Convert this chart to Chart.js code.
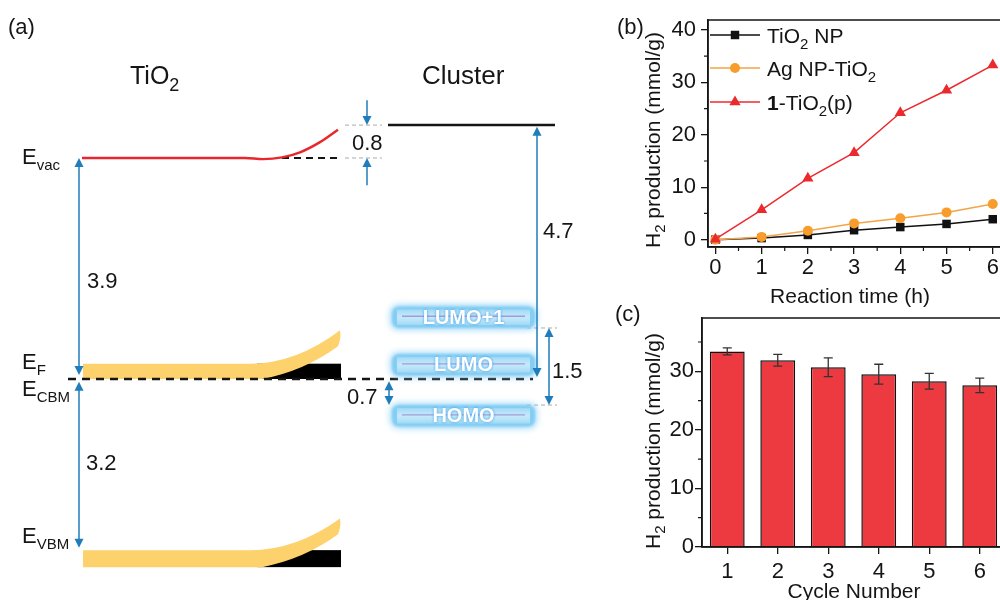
<!DOCTYPE html>
<html>
<head>
<meta charset="utf-8">
<title>TiO2 / cluster energy diagram and H2 production</title>
<script src="https://cdn.jsdelivr.net/npm/chart.js@4.4.1/dist/chart.umd.min.js"></script>
<style>
  html, body { margin: 0; padding: 0; background: #fff; }
  body { width: 1000px; height: 600px; position: relative; overflow: hidden; }
  canvas { position: absolute; }
</style>
</head>
<body>
<canvas id="diagram" width="600" height="600" style="left:0;top:0"></canvas>
<canvas id="kinetics" width="410" height="310" style="left:600px;top:0"></canvas>
<canvas id="cycles" width="410" height="300" style="left:600px;top:300px"></canvas>
<script>
// ---------- data ----------
// (a) energy levels as drawn, in eV (TiO2 vacuum level = 0)
const levelNames = ["E_vac", "cluster vacuum", "E_CBM", "E_VBM", "LUMO+1", "LUMO", "HOMO"];
const levelEnergies = [0, 0.58, -3.9, -6.92, -2.81, -3.65, -4.55];
const gapLabels = ["3.9", "3.2", "0.8", "4.7", "1.5", "0.7"];

// (b) H2 production vs reaction time
const seriesNames = ["TiO_2 NP", "Ag NP-TiO_2", "**1**-TiO_2(p)"];
const reactionTime = [0, 1, 2, 3, 4, 5, 6];
const tio2NP = [0, 0.3, 0.9, 1.8, 2.4, 3.0, 3.9];
const agNPTiO2 = [0, 0.5, 1.7, 3.1, 4.1, 5.2, 6.8];
const clusterTiO2 = [0.1, 5.7, 11.7, 16.6, 24.2, 28.5, 33.3];
const timeTicks = [0, 1, 2, 3, 4, 5, 6];
const prodTicksB = [0, 10, 20, 30, 40];

// (c) recycling test
const cycleLabels = ["1", "2", "3", "4", "5", "6"];
const cycleProd = [33.4, 31.9, 30.7, 29.5, 28.3, 27.6];
const cycleErr = [0.6, 1.0, 1.6, 1.7, 1.35, 1.25];
const prodTicksC = [0, 10, 20, 30];

// ---------- common ----------
const FONT = '"Liberation Sans", Arial, Helvetica, sans-serif';
const INK = "#151515";
const BLUE = "#1f7dbb";
Chart.defaults.font.family = FONT;
Chart.defaults.color = INK;

function fontOf(size, bold) {
  return (bold ? "bold " : "") + size + "px " + FONT;
}

// "TiO_2", "E_{vac}", "**1**" -> parts
function parseRich(s) {
  const out = [];
  const re = /_\{([^}]*)\}|_(\w)|\*\*([^*]+)\*\*/g;
  let last = 0, m;
  while ((m = re.exec(s))) {
    if (m.index > last) out.push([s.slice(last, m.index), ""]);
    if (m[3] !== undefined) out.push([m[3], "b"]);
    else out.push([m[1] !== undefined ? m[1] : m[2], "sub"]);
    last = re.lastIndex;
  }
  if (last < s.length) out.push([s.slice(last), ""]);
  return out;
}

// draws text with subscripts, y is the baseline
function rich(ctx, s, x, y, size, align) {
  const parts = parseRich(s);
  ctx.save();
  ctx.textBaseline = "alphabetic";
  ctx.textAlign = "left";
  const fonts = parts.map(p => p[1] === "sub" ? fontOf(Math.round(size * 0.7)) : fontOf(size, p[1] === "b"));
  const ws = parts.map((p, i) => { ctx.font = fonts[i]; return ctx.measureText(p[0]).width; });
  let cx = x;
  if (align === "center") cx -= ws.reduce((a, b) => a + b, 0) / 2;
  parts.forEach((p, i) => {
    ctx.font = fonts[i];
    ctx.fillText(p[0], cx, y + (p[1] === "sub" ? size * 0.28 : 0));
    cx += ws[i];
  });
  ctx.restore();
}

function minorsOf(ticks, max) {
  const step = ticks[1] - ticks[0];
  return ticks.map(v => v + step / 2).filter(v => v < max);
}

function axisStyle(size) {
  return {
    grid: { drawOnChartArea: false, drawTicks: true, tickLength: 7, color: INK, lineWidth: 1.3 },
    border: { color: INK, width: 1.5 },
    ticks: { font: { size: size }, color: INK, maxRotation: 0 }
  };
}

// ---------- (a) energy diagram ----------
const [eVac, eClusterVac, eCBM, eVBM, eLumo1, eLumo, eHomo] = levelEnergies;
const boxHalf = 0.19;

// horizontal layout of the schematic (px) and shape of the bent vacuum level (eV offsets)
const diag = {
  vacBend: [[82, 0], [245, 0], [263, -0.02], [282, 0.01], [300, 0.1], [320, 0.28], [338, 0.5]],
  bandX: [83, 250, 340],
  boxX: [392, 535]
};

function seg(x1, x2, e) { return [{ x: x1, y: e }, { x: x2, y: e }]; }
function lineDs(data, color, width, dash) {
  return { data: data, borderColor: color, borderWidth: width, borderDash: dash || [],
           showLine: true, pointRadius: 0, fill: false };
}

const arrows = [
  [79, eVac, eCBM + 0.07, 1, 1],
  [79, eCBM - 0.05, eVBM + 0.04, 1, 1],
  [367, eClusterVac + 0.44, eClusterVac, 0, 1],
  [367, eVac - 0.48, eVac, 0, 1],
  [537, eClusterVac - 0.03, eCBM + 0.035, 1, 1],
  [549, eLumo1 - boxHalf, eHomo + boxHalf, 1, 1],
  [389, eCBM - 0.04, eHomo + boxHalf, 1, 1]
];
const gapPos = [[87, 288], [86, 470], [352, 150], [543, 238], [552, 378], [347, 404]];
const diagText = [
  ["(a)", 8, 34, 22],
  ["TiO_2", 130, 84, 25],
  ["Cluster", 422, 84, 26],
  ["E_{vac}", 22, 164, 22],
  ["E_F", 22, 369, 22],
  ["E_{CBM}", 22, 396, 22],
  ["E_{VBM}", 22, 543, 22]
];

function drawBand(ctx, sx, sy, eBottom, thick) {
  const [xl, xb, xr] = diag.bandX;
  const px = v => sx.getPixelForValue(v);
  const py = e => sy.getPixelForValue(e);
  const yb = py(eBottom), yt = py(eBottom + thick);
  const yTip = py(eBottom + 0.86), yLow = py(eBottom + 0.58), yCtl = py(eBottom + 0.15);
  ctx.fillStyle = "#000";
  ctx.fillRect(px(257), yt, px(341) - px(257), yb - yt);
  ctx.fillStyle = "#fdd26d";
  ctx.beginPath();
  ctx.moveTo(px(xl), yt);
  ctx.lineTo(px(xb), yt);
  ctx.quadraticCurveTo(px(296), yt, px(xr), yTip);
  ctx.quadraticCurveTo(px(xr + 1.5), (yTip + yLow) / 2, px(xr - 2), yLow);
  ctx.quadraticCurveTo(px(305), yCtl, px(262), yb);
  ctx.lineTo(px(xl), yb);
  ctx.closePath();
  ctx.fill();
}

function roundRectPath(ctx, x, y, w, h, r) {
  ctx.beginPath();
  ctx.moveTo(x + r, y);
  ctx.lineTo(x + w - r, y);
  ctx.quadraticCurveTo(x + w, y, x + w, y + r);
  ctx.lineTo(x + w, y + h - r);
  ctx.quadraticCurveTo(x + w, y + h, x + w - r, y + h);
  ctx.lineTo(x + r, y + h);
  ctx.quadraticCurveTo(x, y + h, x, y + h - r);
  ctx.lineTo(x, y + r);
  ctx.quadraticCurveTo(x, y, x + r, y);
  ctx.closePath();
}

function glowBox(ctx, x1, x2, yTop, yBot, label) {
  const h = yBot - yTop, yc = (yTop + yBot) / 2;
  ctx.save();
  // soft halo
  ctx.filter = "blur(3px)";
  ctx.fillStyle = "rgba(130,205,247,0.7)";
  roundRectPath(ctx, x1 - 2, yTop - 2, x2 - x1 + 4, h + 4, 9);
  ctx.fill();
  ctx.filter = "blur(1px)";
  ctx.fillStyle = "#84cdf3";
  roundRectPath(ctx, x1, yTop, x2 - x1, h, 8);
  ctx.fill();
  ctx.filter = "none";
  const g = ctx.createLinearGradient(0, yTop, 0, yBot);
  g.addColorStop(0, "rgba(255,255,255,0)");
  g.addColorStop(0.5, "rgba(205,238,253,0.85)");
  g.addColorStop(1, "rgba(255,255,255,0)");
  ctx.fillStyle = g;
  ctx.fillRect(x1 + 5, yTop + 3, x2 - x1 - 10, h - 6);
  ctx.strokeStyle = "#a49bd6";
  ctx.lineWidth = 1.3;
  ctx.beginPath();
  ctx.moveTo(x1 + 10, yc - 1); ctx.lineTo(x2 - 10, yc - 1);
  ctx.stroke();
  ctx.fillStyle = "#ffffff";
  ctx.font = fontOf(20, true);
  ctx.textAlign = "center";
  ctx.textBaseline = "middle";
  ctx.shadowColor = "rgba(40,150,230,0.9)";
  ctx.shadowBlur = 3;
  ctx.fillText(label, (x1 + x2) / 2, yc + 1);
  ctx.restore();
}

function drawArrow(ctx, x, y1, y2, head1, head2) {
  const hl = 9, hw = 4.5;
  const dir = Math.sign(y2 - y1);
  ctx.save();
  ctx.strokeStyle = BLUE;
  ctx.fillStyle = BLUE;
  ctx.lineWidth = 1.5;
  ctx.beginPath();
  ctx.moveTo(x, y1 + (head1 ? dir * hl * 0.7 : 0));
  ctx.lineTo(x, y2 - (head2 ? dir * hl * 0.7 : 0));
  ctx.stroke();
  const tri = (tip, pd) => {
    ctx.beginPath();
    ctx.moveTo(x, tip);
    ctx.lineTo(x - hw, tip - pd * hl);
    ctx.lineTo(x + hw, tip - pd * hl);
    ctx.closePath();
    ctx.fill();
  };
  if (head1) tri(y1, -dir);
  if (head2) tri(y2, dir);
  ctx.restore();
}

const diagramDecor = {
  id: "diagramDecor",
  beforeDatasetsDraw(chart) {
    const { ctx, scales: { x, y } } = chart;
    ctx.save();
    drawBand(ctx, x, y, eCBM, 0.27);
    drawBand(ctx, x, y, eVBM - 0.3, 0.3);
    ctx.restore();
  },
  afterDatasetsDraw(chart) {
    const { ctx, scales: { x, y } } = chart;
    const bx1 = x.getPixelForValue(diag.boxX[0]), bx2 = x.getPixelForValue(diag.boxX[1]);
    [[eLumo1, levelNames[4]], [eLumo, levelNames[5]], [eHomo, levelNames[6]]].forEach(b => {
      glowBox(ctx, bx1, bx2, y.getPixelForValue(b[0] + boxHalf), y.getPixelForValue(b[0] - boxHalf), b[1]);
    });
    arrows.forEach(a => drawArrow(ctx, x.getPixelForValue(a[0]), y.getPixelForValue(a[1]), y.getPixelForValue(a[2]), a[3], a[4]));
    ctx.fillStyle = INK;
    diagText.forEach(t => rich(ctx, t[0], t[1], t[2], t[3]));
    gapLabels.forEach((g, i) => rich(ctx, g, gapPos[i][0], gapPos[i][1], 22));
  }
};

new Chart(document.getElementById("diagram"), {
  type: "scatter",
  data: {
    datasets: [
      Object.assign(lineDs(diag.vacBend.map(p => ({ x: p[0], y: eVac + p[1] })), "#e8262c", 2.4),
                    { cubicInterpolationMode: "monotone" }),
      lineDs(seg(282, 338, eVac), INK, 2.2, [7, 5]),
      lineDs(seg(345, 382, eClusterVac), "#aaaaaa", 1, [4, 3]),
      lineDs(seg(345, 382, eVac), "#aaaaaa", 1, [4, 3]),
      lineDs(seg(527, 557, eLumo1 - boxHalf), "#aaaaaa", 1, [4, 3]),
      lineDs(seg(527, 557, eHomo + boxHalf), "#aaaaaa", 1, [4, 3]),
      lineDs(seg(388, 555, eClusterVac), INK, 2.5),
      lineDs(seg(68, 533, eCBM), INK, 2.5, [8, 6])
    ]
  },
  options: {
    responsive: false,
    animation: false,
    devicePixelRatio: 1,
    layout: { padding: 0 },
    plugins: { legend: { display: false }, tooltip: { enabled: false } },
    scales: {
      x: { type: "linear", display: false, min: 0, max: 600 },
      y: { type: "linear", display: false, min: -7.8, max: 2.788 }
    }
  },
  plugins: [diagramDecor]
});

// ---------- (b) H2 production vs time ----------
const kineticsDecor = {
  id: "kineticsDecor",
  afterDraw(chart) {
    const { ctx, chartArea: a, scales: { x, y } } = chart;
    ctx.save();
    ctx.strokeStyle = INK;
    ctx.lineWidth = 1.5;
    ctx.strokeRect(a.left, a.top, a.right - a.left, a.bottom - a.top);
    ctx.lineWidth = 1.2;
    ctx.beginPath();
    minorsOf(prodTicksB, y.max).forEach(v => {
      const p = y.getPixelForValue(v);
      ctx.moveTo(a.left - 4, p); ctx.lineTo(a.left, p);
    });
    minorsOf(timeTicks, x.max).forEach(v => {
      const p = x.getPixelForValue(v);
      ctx.moveTo(p, a.bottom); ctx.lineTo(p, a.bottom + 4);
    });
    ctx.stroke();

    // legend
    const rowsY = [35, 68, 102];
    chart.data.datasets.forEach((ds, i) => {
      const ry = rowsY[i];
      ctx.strokeStyle = ds.borderColor;
      ctx.lineWidth = 1.5;
      ctx.beginPath(); ctx.moveTo(110, ry); ctx.lineTo(160, ry); ctx.stroke();
      ctx.fillStyle = ds.pointBackgroundColor;
      Chart.helpers.drawPoint(ctx, { pointStyle: ds.pointStyle, radius: ds.pointRadius, borderWidth: 0, rotation: 0 }, 135, ry);
      ctx.fillStyle = INK;
      rich(ctx, seriesNames[i], 167, ry + 8, 21);
    });

    // titles
    ctx.fillStyle = INK;
    rich(ctx, "Reaction time (h)", 250, 303, 21, "center");
    ctx.translate(52, 140);
    ctx.rotate(-Math.PI / 2);
    rich(ctx, "H_2 production (mmol/g)", 0, 7.5, 21, "center");
    ctx.setTransform(1, 0, 0, 1, 0, 0);
    rich(ctx, "(b)", 17, 34, 22);
    ctx.restore();
  }
};

function xy(xs, ys) { return xs.map((v, i) => ({ x: v, y: ys[i] })); }

const bX = axisStyle(22), bY = axisStyle(22);
new Chart(document.getElementById("kinetics"), {
  type: "line",
  data: {
    datasets: [
      { data: xy(reactionTime, tio2NP), borderColor: "#111111", pointBackgroundColor: "#111111",
        pointStyle: "rect", pointRadius: 6, borderWidth: 1.5, pointBorderWidth: 0, order: 2 },
      { data: xy(reactionTime, agNPTiO2), borderColor: "#f2a546", pointBackgroundColor: "#f89c2c",
        pointStyle: "circle", pointRadius: 5, borderWidth: 1.5, pointBorderWidth: 0, order: 1 },
      { data: xy(reactionTime, clusterTiO2), borderColor: "#ec2a2e", pointBackgroundColor: "#ec2a2e",
        pointStyle: "triangle", pointRadius: 6.5, borderWidth: 1.5, pointBorderWidth: 0, order: 0 }
    ]
  },
  options: {
    responsive: false,
    animation: false,
    devicePixelRatio: 1,
    layout: { padding: { top: 20, right: 8, left: 0, bottom: 0 } },
    plugins: { legend: { display: false }, tooltip: { enabled: false } },
    scales: {
      x: Object.assign(bX, {
        type: "linear", min: -0.16, max: 6.2,
        ticks: Object.assign(bX.ticks, { padding: 1 }),
        afterBuildTicks: s => { s.ticks = timeTicks.map(v => ({ value: v })); },
        afterFit: s => { s.height = 63; }
      }),
      y: Object.assign(bY, {
        type: "linear", min: -1.4, max: 41.9,
        ticks: Object.assign(bY.ticks, { padding: 5 }),
        afterBuildTicks: s => { s.ticks = prodTicksB.map(v => ({ value: v })); },
        afterFit: s => { s.width = 108; }
      })
    }
  },
  plugins: [kineticsDecor]
});

// ---------- (c) cycling ----------
const cyclesDecor = {
  id: "cyclesDecor",
  afterDatasetsDraw(chart) {
    const { ctx, scales: { x, y } } = chart;
    ctx.save();
    ctx.strokeStyle = "#333";
    ctx.lineWidth = 1.3;
    ctx.beginPath();
    cycleProd.forEach((v, i) => {
      const px = x.getPixelForValue(i);
      const hi = y.getPixelForValue(v + cycleErr[i]);
      const lo = y.getPixelForValue(v - cycleErr[i]);
      ctx.moveTo(px, hi); ctx.lineTo(px, lo);
      ctx.moveTo(px - 4.5, hi); ctx.lineTo(px + 4.5, hi);
      ctx.moveTo(px - 4.5, lo); ctx.lineTo(px + 4.5, lo);
    });
    ctx.stroke();
    ctx.restore();
  },
  afterDraw(chart) {
    const { ctx, chartArea: a, scales: { y } } = chart;
    ctx.save();
    ctx.strokeStyle = INK;
    ctx.lineWidth = 1.5;
    ctx.strokeRect(a.left, a.top, a.right - a.left, a.bottom - a.top);
    ctx.lineWidth = 1.2;
    ctx.beginPath();
    minorsOf(prodTicksC, y.max).concat([35]).forEach(v => {
      const p = y.getPixelForValue(v);
      ctx.moveTo(a.left - 4, p); ctx.lineTo(a.left, p);
    });
    ctx.stroke();
    ctx.fillStyle = INK;
    rich(ctx, "Cycle Number", 254, 298, 21, "center");
    ctx.translate(52, 141);
    ctx.rotate(-Math.PI / 2);
    rich(ctx, "H_2 production (mmol/g)", 0, 7.5, 21, "center");
    ctx.setTransform(1, 0, 0, 1, 0, 0);
    rich(ctx, "(c)", 15, 21, 22);
    ctx.restore();
  }
};

const cX = axisStyle(22), cY = axisStyle(22);
cX.grid.offset = false;
new Chart(document.getElementById("cycles"), {
  type: "bar",
  data: {
    labels: cycleLabels,
    datasets: [{
      data: cycleProd,
      backgroundColor: "#ec3a40",
      borderColor: "#111111",
      borderWidth: 1.5,
      barPercentage: 0.69,
      categoryPercentage: 1
    }]
  },
  options: {
    responsive: false,
    animation: false,
    devicePixelRatio: 1,
    layout: { padding: { top: 18, right: 5, left: 0, bottom: 0 } },
    plugins: { legend: { display: false }, tooltip: { enabled: false } },
    scales: {
      x: Object.assign(cX, {
        ticks: Object.assign(cX.ticks, { padding: 5 }),
        afterFit: s => { s.height = 53; }
      }),
      y: Object.assign(cY, {
        type: "linear", min: 0, max: 39.1,
        ticks: Object.assign(cY.ticks, { padding: 1 }),
        afterBuildTicks: s => { s.ticks = prodTicksC.map(v => ({ value: v })); },
        afterFit: s => { s.width = 102; }
      })
    }
  },
  plugins: [cyclesDecor]
});
</script>
</body>
</html>
